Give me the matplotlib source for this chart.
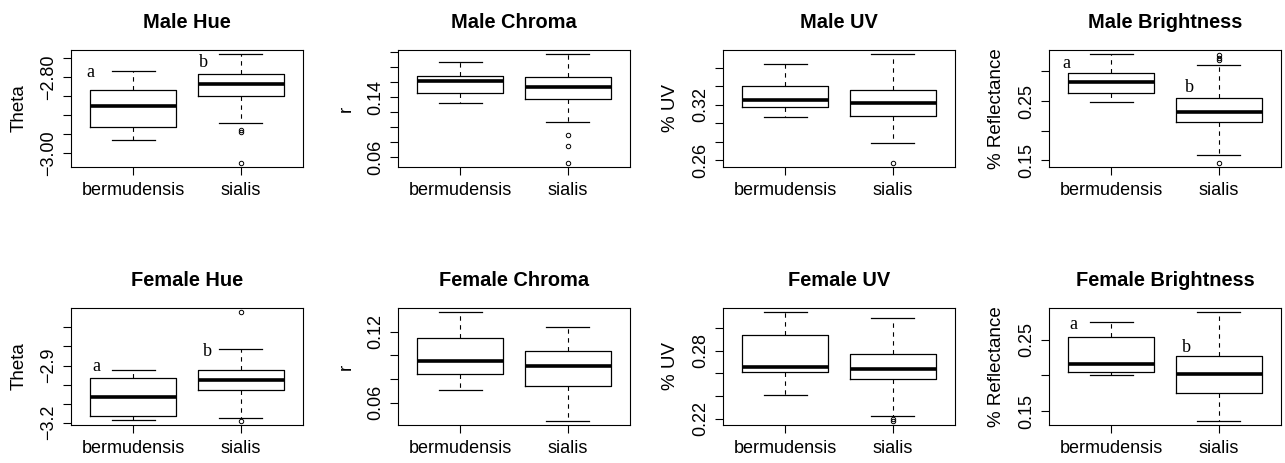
import numpy as np
import matplotlib.pyplot as plt

groups = ["bermudensis", "sialis"]

# five-number summaries: whislo, q1, median, q3, whishi
male_hue = [[-2.966, -2.932, -2.875, -2.835, -2.783],
            [-2.921, -2.849, -2.818, -2.793, -2.740]]
male_hue_out = [[], [-2.939, -2.945, -3.025]]
male_chroma = [[0.1324, 0.1453, 0.1613, 0.1684, 0.1876],
               [0.1067, 0.1382, 0.1533, 0.1675, 0.1973]]
male_chroma_out = [[], [0.0893, 0.0756, 0.0529]]
male_uv = [[0.3070, 0.3174, 0.3250, 0.3397, 0.3638],
           [0.2783, 0.3081, 0.3221, 0.3357, 0.3742]]
male_uv_out = [[], [0.2575]]
male_bright = [[0.2484, 0.2635, 0.2826, 0.2978, 0.3287],
               [0.1596, 0.2141, 0.2321, 0.2545, 0.3102]]
male_bright_out = [[], [0.3270, 0.3225, 0.3190, 0.1461]]

female_hue = [[-3.186, -3.165, -3.065, -2.967, -2.921],
              [-3.177, -3.028, -2.974, -2.923, -2.811]]
female_hue_out = [[], [-2.621, -3.189]]
female_chroma = [[0.0707, 0.0842, 0.0949, 0.1149, 0.1363],
                 [0.0448, 0.0738, 0.0907, 0.1039, 0.1242]]
female_chroma_out = [[], []]
female_uv = [[0.2410, 0.2609, 0.2658, 0.2933, 0.3137],
             [0.2220, 0.2547, 0.2635, 0.2769, 0.3085]]
female_uv_out = [[], [0.2200, 0.2183]]
female_bright = [[0.2007, 0.2053, 0.2160, 0.2537, 0.2742],
                 [0.1365, 0.1756, 0.2021, 0.2263, 0.2881]]
female_bright_out = [[], []]

titles = ["Male Hue", "Male Chroma", "Male UV", "Male Brightness",
          "Female Hue", "Female Chroma", "Female UV", "Female Brightness"]
ylabels = ["Theta", "r", "% UV", "% Reflectance",
           "Theta", "r", "% UV", "% Reflectance"]
yticks = [[-3.00, -2.95, -2.90, -2.85, -2.80, -2.75],
          [0.06, 0.08, 0.10, 0.12, 0.14, 0.16, 0.18, 0.20],
          [0.26, 0.28, 0.30, 0.32, 0.34, 0.36],
          [0.15, 0.20, 0.25, 0.30],
          [-3.2, -3.1, -3.0, -2.9, -2.8, -2.7],
          [0.06, 0.08, 0.10, 0.12],
          [0.22, 0.24, 0.26, 0.28, 0.30],
          [0.15, 0.20, 0.25]]
yticklabels = [["\u22123.00", "", "", "", "\u22122.80", ""],
               ["0.06", "", "", "", "0.14", "", "", ""],
               ["0.26", "", "", "0.32", "", ""],
               ["0.15", "", "0.25", ""],
               ["\u22123.2", "", "", "\u22122.9", "", ""],
               ["0.06", "", "", "0.12"],
               ["0.22", "", "", "0.28", ""],
               ["0.15", "", "0.25"]]
# significance letters (x, y, text) per panel
letters = [[(0.60, -2.788, "a"), (1.65, -2.761, "b")],
           [], [],
           [(0.58, 0.314, "a"), (1.73, 0.273, "b")],
           [(0.66, -2.905, "a"), (1.69, -2.826, "b")],
           [], [],
           [(0.65, 0.2714, "a"), (1.70, 0.2388, "b")]]

summaries = [male_hue, male_chroma, male_uv, male_bright,
             female_hue, female_chroma, female_uv, female_bright]
outliers = [male_hue_out, male_chroma_out, male_uv_out, male_bright_out,
            female_hue_out, female_chroma_out, female_uv_out, female_bright_out]

plt.rcParams['font.family'] = ['Liberation Sans', 'DejaVu Sans']

fig = plt.figure(figsize=(12.85, 4.63), dpi=100)
W, H = 1285, 463
lefts = [71, 398, 723, 1049]
tops = [50, 308]
aw, ah = 232, 117

for i in range(8):
    row, col = divmod(i, 4)
    ax = fig.add_axes([lefts[col] / W, 1 - (tops[row] + ah) / H, aw / W, ah / H])
    stats = []
    for g in range(2):
        lo, q1, med, q3, hi = summaries[i][g]
        stats.append(dict(whislo=lo, q1=q1, med=med, q3=q3, whishi=hi,
                          fliers=outliers[i][g], label=groups[g]))
    ax.bxp(stats, positions=[1, 2], widths=0.8, capwidths=0.4,
           boxprops=dict(color='black', linewidth=0.9),
           medianprops=dict(color='black', linewidth=2.6, solid_capstyle='butt'),
           whiskerprops=dict(color='black', linewidth=0.8, linestyle=(0, (4, 4))),
           capprops=dict(color='black', linewidth=0.9),
           flierprops=dict(marker='o', markersize=3.2, markerfacecolor='none',
                           markeredgecolor='black', markeredgewidth=0.7))
    vals = [v for s in summaries[i] for v in s] + [v for o in outliers[i] for v in o]
    lo, hi = min(vals), max(vals)
    pad = 0.04 * (hi - lo)
    ax.set_ylim(lo - pad, hi + pad)
    ax.set_xlim(0.42, 2.58)
    ax.set_yticks(yticks[i])
    ax.set_yticklabels(yticklabels[i], rotation=90, va='center', fontsize=13)
    ax.set_xticks([1, 2])
    ax.set_xticklabels(groups, fontsize=13)
    ax.tick_params(axis='y', length=5.5, width=0.8, pad=4.5)
    ax.tick_params(axis='x', length=5.5, width=0.8, pad=5.5)
    for sp in ax.spines.values():
        sp.set_linewidth(0.8)
    ax.set_title(titles[i], fontsize=14.4, fontweight='bold', pad=16)
    ax.set_ylabel(ylabels[i], fontsize=13.5)
    ax.yaxis.set_label_coords(-0.188, 0.5)
    for x, y, t in letters[i]:
        ax.text(x, y, t, fontsize=13, family='Liberation Serif', ha='center', va='center')

plt.savefig("out.png", dpi=100)
